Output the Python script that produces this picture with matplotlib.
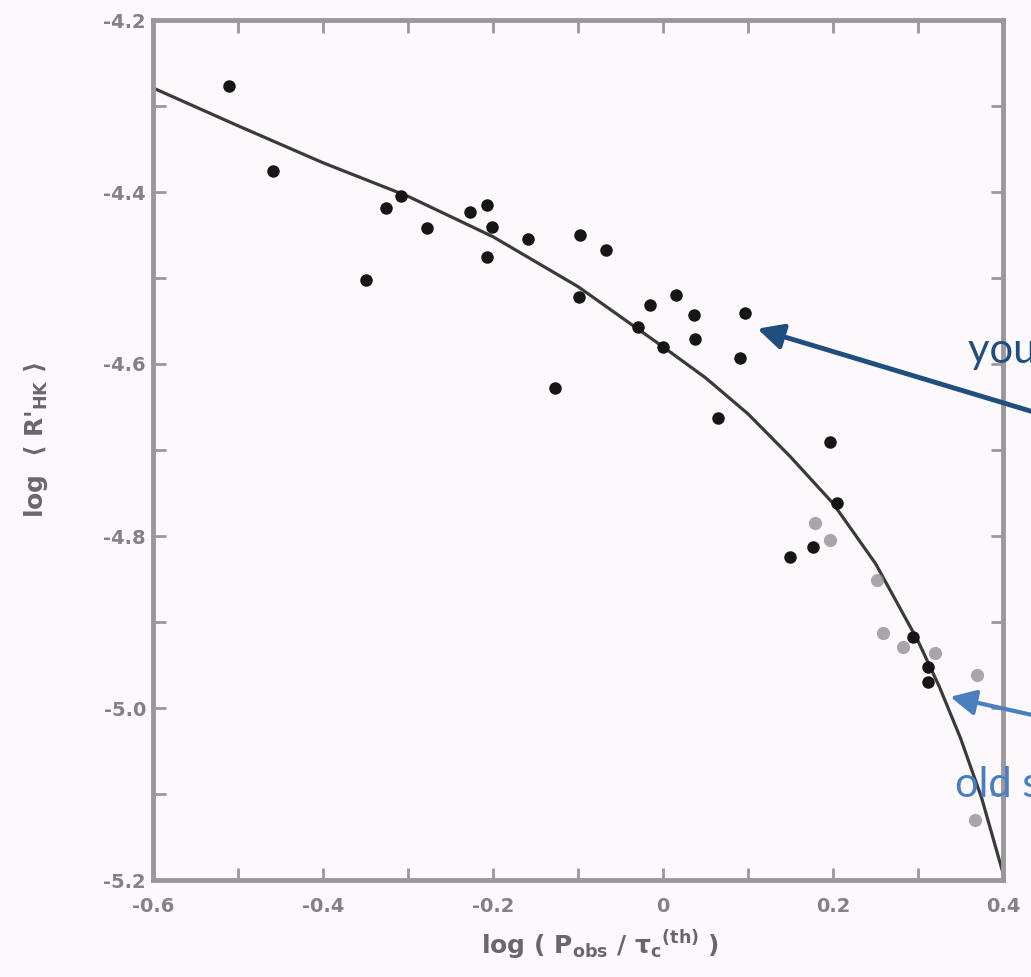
import matplotlib
matplotlib.use("Agg")
import matplotlib.pyplot as plt
from matplotlib.ticker import FixedLocator, MultipleLocator

plt.rcParams['axes.unicode_minus'] = False
plt.rcParams['mathtext.default'] = 'regular'

# dark points (this sample)
dark_x = [-0.511, -0.459, -0.349, -0.326, -0.308, -0.278, -0.227, -0.207, -0.201,
          -0.207, -0.159, -0.127, -0.098, -0.067, -0.099, -0.015, 0.015, 0.036,
          0.038, -0.029, 0.000, 0.096, 0.091, 0.065, 0.196, 0.205, 0.149, 0.176,
          0.294, 0.312, 0.312]
dark_y = [-4.277, -4.376, -4.502, -4.419, -4.405, -4.442, -4.423, -4.415, -4.441,
          -4.476, -4.455, -4.628, -4.450, -4.467, -4.522, -4.531, -4.520, -4.543,
          -4.571, -4.557, -4.580, -4.541, -4.593, -4.663, -4.691, -4.762, -4.824,
          -4.813, -4.917, -4.952, -4.970]

# faint grey points
grey_x = [0.179, 0.196, 0.252, 0.259, 0.282, 0.320, 0.369, 0.367]
grey_y = [-4.785, -4.805, -4.851, -4.913, -4.929, -4.936, -4.962, -5.130]

# curve
curve_x = [-0.600, -0.500, -0.400, -0.300, -0.200, -0.100, 0.000, 0.050, 0.100,
           0.150, 0.200, 0.250, 0.300, 0.325, 0.350, 0.375, 0.400]
curve_y = [-4.279, -4.323, -4.366, -4.405, -4.452, -4.510, -4.580, -4.616, -4.658,
           -4.708, -4.762, -4.832, -4.922, -4.975, -5.035, -5.105, -5.192]

xticks = [-0.6, -0.4, -0.2, 0, 0.2, 0.4]
xticklabels = ['-0.6', '-0.4', '-0.2', '0', '0.2', '0.4']
yticks = [-4.2, -4.4, -4.6, -4.8, -5.0, -5.2]
yticklabels = ['-4.2', '-4.4', '-4.6', '-4.8', '-5.0', '-5.2']

bg = '#fcf8fc'
frame = '#9c979c'
W, H = 1031, 977

fig = plt.figure(figsize=(W / 100, H / 100), dpi=100, facecolor=bg)
ax = fig.add_axes([153 / W, 1 - 880 / H, 850 / W, 860 / H])
ax.set_facecolor(bg)

ax.plot(curve_x, curve_y, color='#3a3a3a', lw=2.3, zorder=2, clip_on=False,
        solid_joinstyle='round')
ax.plot(grey_x, grey_y, 'o', color='#8e8a8e', ms=9.5, mec='none', alpha=0.75, zorder=3)
ax.plot(dark_x, dark_y, 'o', color='#151515', ms=9, mec='none', zorder=4)

ax.set_xlim(-0.6, 0.4)
ax.set_ylim(-5.2, -4.2)
ax.xaxis.set_major_locator(FixedLocator(xticks))
ax.yaxis.set_major_locator(FixedLocator(yticks))
ax.set_xticklabels(xticklabels, fontweight='bold')
ax.set_yticklabels(yticklabels, fontweight='bold')
ax.xaxis.set_minor_locator(MultipleLocator(0.1))
ax.yaxis.set_minor_locator(MultipleLocator(0.1))
ax.tick_params(which='both', direction='in', top=True, right=True,
               length=9, width=2, color=frame)
ax.tick_params(which='major', labelsize=14, labelcolor='#858085')
ax.tick_params(axis='x', which='major', pad=12)
ax.tick_params(axis='y', which='major', pad=5)
for s in ax.spines.values():
    s.set_color(frame)
    s.set_linewidth(3.5)

fig.text(600 / W, 1 - 945 / H, r'log ( P$_{obs}$ / $\tau_c$$^{(th)}$ )',
         ha='center', va='center', fontsize=18, color='#6a666a', fontweight='bold')
fig.text(36 / W, 1 - 440 / H, r"log  $\langle$ R'$_{HK}$ $\rangle$", rotation=90,
         ha='center', va='center', fontsize=18, color='#6a666a', fontweight='bold')

# annotations pasted on top
dark_blue = '#1f4e7f'
light_blue = '#4a7fbf'
ax.annotate('', xy=(0.111, -4.559), xycoords='data',
            xytext=(1100, H - 432), textcoords='figure pixels',
            arrowprops=dict(arrowstyle='-|>,head_length=0.7,head_width=0.35',
                            color=dark_blue, lw=3.5, mutation_scale=22,
                            shrinkA=0, shrinkB=0),
            annotation_clip=False)
ax.annotate('', xy=(0.338, -4.987), xycoords='data',
            xytext=(1100, H - 730), textcoords='figure pixels',
            arrowprops=dict(arrowstyle='-|>,head_length=0.7,head_width=0.35',
                            color=light_blue, lw=3.0, mutation_scale=22,
                            shrinkA=0, shrinkB=0),
            annotation_clip=False)
fig.text(968 / W, 1 - 363 / H, 'young stars', family='Lato', fontsize=30,
         color=dark_blue, ha='left', va='baseline')
fig.text(955 / W, 1 - 797 / H, 'old stars', family='Lato', fontsize=30,
         color=light_blue, ha='left', va='baseline')

fig.savefig('out.png', dpi=100, facecolor=bg)
